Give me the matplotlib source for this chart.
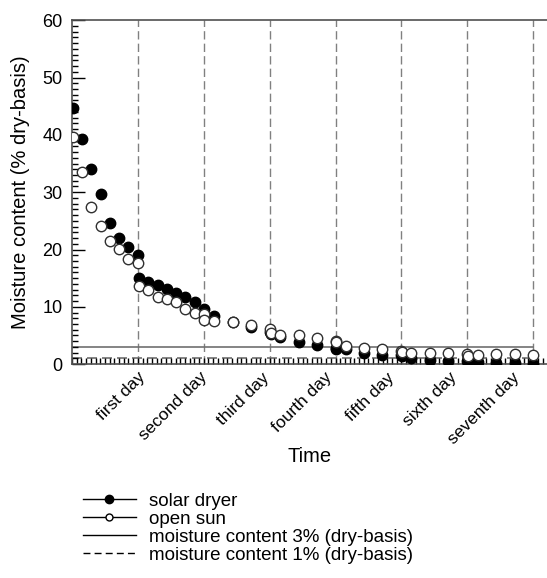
import numpy as np
import matplotlib
matplotlib.use('Agg')
import matplotlib.pyplot as plt
from matplotlib.ticker import MultipleLocator

plt.rcParams['font.family'] = ['Liberation Sans', 'DejaVu Sans']

# time (days) of each reading
time_days = [0.01, 0.15, 0.29, 0.44, 0.58, 0.72, 0.85, 1.00,
             1.02, 1.16, 1.30, 1.44, 1.58, 1.72, 1.86, 2.00,
             2.01, 2.16, 2.44, 2.72, 3.00,
             3.02, 3.16, 3.44, 3.72, 4.00,
             4.01, 4.16, 4.43, 4.71, 5.00,
             5.01, 5.15, 5.44, 5.71, 6.00,
             6.01, 6.17, 6.44, 6.72, 6.99]

solar_dryer = [44.7, 39.3, 34.0, 29.6, 24.7, 22.0, 20.4, 19.1,
               15.0, 14.4, 13.8, 13.1, 12.4, 11.8, 10.9, 9.6,
               8.6, 8.4, 7.3, 6.5, 5.6,
               5.2, 4.7, 3.8, 3.4, 2.8,
               2.7, 2.6, 2.0, 1.6, 1.6,
               1.5, 1.0, 0.7, 0.6, 0.6,
               0.5, 0.4, 0.2, 0.2, 0.1]

open_sun = [39.6, 33.5, 27.5, 24.1, 21.5, 20.1, 18.4, 17.6,
            13.7, 13.0, 11.7, 11.3, 10.9, 9.7, 9.0, 8.7,
            7.7, 7.6, 7.4, 6.8, 6.1,
            5.4, 5.0, 5.1, 4.5, 4.1,
            3.8, 3.1, 2.9, 2.7, 2.3,
            2.1, 1.9, 1.9, 1.9, 1.7,
            1.5, 1.6, 1.7, 1.7, 1.6]

day_bounds = [1, 2, 3, 4, 5, 6, 7]
# label anchors sit a bit left of the day lines in the original
label_pos = [0.99, 1.94, 2.88, 3.83, 4.78, 5.73, 6.68]
day_labels = ['first day', 'second day', 'third day', 'fourth day',
              'fifth day', 'sixth day', 'seventh day']
limit_3 = 3.0
limit_1 = 1.0

fig = plt.figure(figsize=(5.47, 5.78), dpi=100)
ax = fig.add_axes([0.1316, 0.370, 0.8684, 0.595])

for d in day_bounds:
    ax.axvline(d, color='#808080', lw=1.0, ls=(0, (6, 3)), zorder=1)

ax.plot([0, 7], [limit_3, limit_3], color='#707070', lw=1.2, zorder=1)
ax.plot([0, 7], [limit_1, limit_1], color='#707070', lw=1.2, ls=(0, (6, 3)),
        zorder=1)

ax.plot(time_days, solar_dryer, ls='none', marker='o', ms=7.5, mfc='black',
        mec='black', zorder=3)
ax.plot(time_days, open_sun, ls='none', marker='o', ms=7.5, mfc='white',
        mec='#303030', mew=1.0, zorder=4)

ax.set_xlim(0, 7.21)
ax.set_ylim(0, 60)

ax.yaxis.set_major_locator(MultipleLocator(10))
ax.yaxis.set_minor_locator(MultipleLocator(1))
ax.xaxis.set_minor_locator(MultipleLocator(1 / 14))
ax.set_xticks(label_pos)
ax.set_xticklabels(day_labels, rotation=45, ha='right', rotation_mode='anchor',
                   fontsize=12.5)

ax.tick_params(axis='y', which='major', direction='in', length=9, width=1,
               labelsize=13, pad=7)
ax.tick_params(axis='y', which='minor', direction='in', length=4, width=1)
ax.tick_params(axis='x', which='major', length=0, pad=4)
ax.tick_params(axis='x', which='minor', direction='in', length=4, width=1)

ax.spines['right'].set_visible(False)
for s in ['left', 'bottom', 'top']:
    ax.spines[s].set_color('#505050')
    ax.spines[s].set_linewidth(1.2)

ax.set_ylabel('Moisture content (% dry-basis)', fontsize=14.5, labelpad=9)
ax.set_xlabel('Time', fontsize=14.5, labelpad=0)

# legend (line+marker style like the original)
h1, = ax.plot([], [], color='black', lw=1, marker='o', ms=6, mfc='black')
h2, = ax.plot([], [], color='black', lw=1, marker='o', ms=5, mfc='white')
h3, = ax.plot([], [], color='black', lw=1)
h4, = ax.plot([], [], color='black', lw=1, ls=(0, (5, 3)))
fig.legend([h1, h2, h3, h4],
           ['solar dryer', 'open sun', 'moisture content 3% (dry-basis)',
            'moisture content 1% (dry-basis)'],
           loc='upper left', bbox_to_anchor=(0.152, 0.148), frameon=False,
           fontsize=13.5, handlelength=2.8, handletextpad=0.7, labelspacing=0.05,
           borderaxespad=0, borderpad=0)

fig.savefig('out.png', dpi=100)
